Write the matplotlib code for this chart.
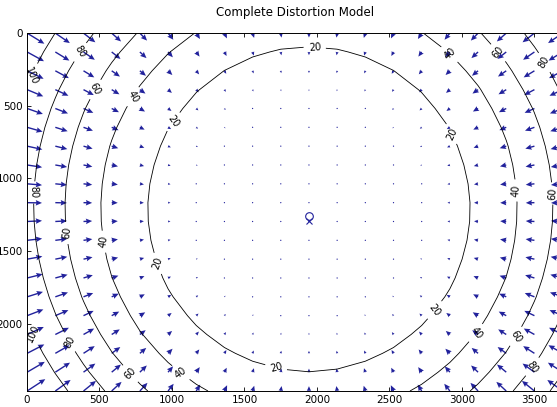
import numpy as np
import matplotlib
matplotlib.use('Agg')
import matplotlib.pyplot as plt


# Camera / image parameters (pixels)
nx, ny = 3888, 2592
fc = [3000.0, 3000.0]                     # focal length
cc = [1944.0, 1261.0]                     # principal point
kc = [-0.142, 0.092, -0.002, 0.0, 0.0]    # k1, k2, p1, p2, k3

levels = [20, 40, 60, 80, 100]
xticks = [0, 500, 1000, 1500, 2000, 2500, 3000, 3500]
yticks = [0, 500, 1000, 1500, 2000]

# where the contour labels sit (image pixels), as in the reference
label_pos = [
    (966, 579), (1986, 83), (2938, 690), (862, 1600), (2800, 1897), (1710, 2331),   # 20
    (690, 414), (2931, 131), (503, 1441), (3379, 1083), (3103, 2069), (1055, 2345), # 40
    (455, 379), (3248, 138), (248, 1379), (3641, 1103), (3366, 2083), (697, 2359),  # 60
    (345, 117), (3538, 221), (41, 1097), (283, 2131), (3524, 2324),                 # 80
    (41, 303), (41, 2069),                                                          # 100
]


# Grid of 20x20 sample points over the image
mx, my = np.meshgrid(np.arange(0, nx - 1, nx / 20), np.arange(0, ny - 1, ny / 20))

# Normalized coordinates and the distortion model
x = (mx - cc[0]) / fc[0]
y = (my - cc[1]) / fc[1]
r2 = x**2 + y**2
radial = 1 + kc[0]*r2 + kc[1]*r2**2 + kc[4]*r2**3
dxt = 2*kc[2]*x*y + kc[3]*(r2 + 2*x**2)
dyt = kc[2]*(r2 + 2*y**2) + 2*kc[3]*x*y
xd = x*radial + dxt
yd = y*radial + dyt

dx = fc[0]*(xd - x)
dy = fc[1]*(yd - y)
dr = np.sqrt(dx**2 + dy**2)

# quiver autoscale like matlab: longest arrow = 0.9 grid step
delx, dely = nx/20, ny/20
s = 0.9 / np.max(np.sqrt((dx/delx)**2 + (dy/dely)**2))


fig = plt.figure(figsize=(5.57, 4.07), dpi=100)
ax = fig.add_axes([27/557, 16/407, 535.6/557, 358/407])

blue = '#22229c'
ax.quiver(mx + 1, my + 1, dx, dy, angles='xy', scale_units='xy', scale=1/s,
          color=blue, width=0.0026, headwidth=4, headlength=4.5, headaxislength=4)
ax.plot(cc[0] + 1, cc[1] + 1, 'o', color=blue, mfc='none', ms=5.5, mew=0.8)
ax.plot((nx - 1)/2 + 1, (ny - 1)/2 + 1, 'x', color=blue, ms=5, mew=0.8)

cs = ax.contour(mx + 1, my + 1, dr, levels=levels, colors='k', linewidths=0.6)
ax.clabel(cs, fmt='%d', fontsize=7, inline=True, manual=label_pos)

ax.set_xlim(1, mx.max() + 1)
ax.set_ylim(my.max() + 1, 1)
ax.set_xticks(xticks)
ax.set_yticks(yticks)
ax.tick_params(direction='in', length=3, width=0.6, labelsize=7.5, pad=3,
               top=True, right=True)
for sp in ax.spines.values():
    sp.set_linewidth(0.7)

ax.set_title('Complete Distortion Model', fontsize=8.5, pad=12.5)

fig.savefig('out.png', dpi=100, facecolor='white')
